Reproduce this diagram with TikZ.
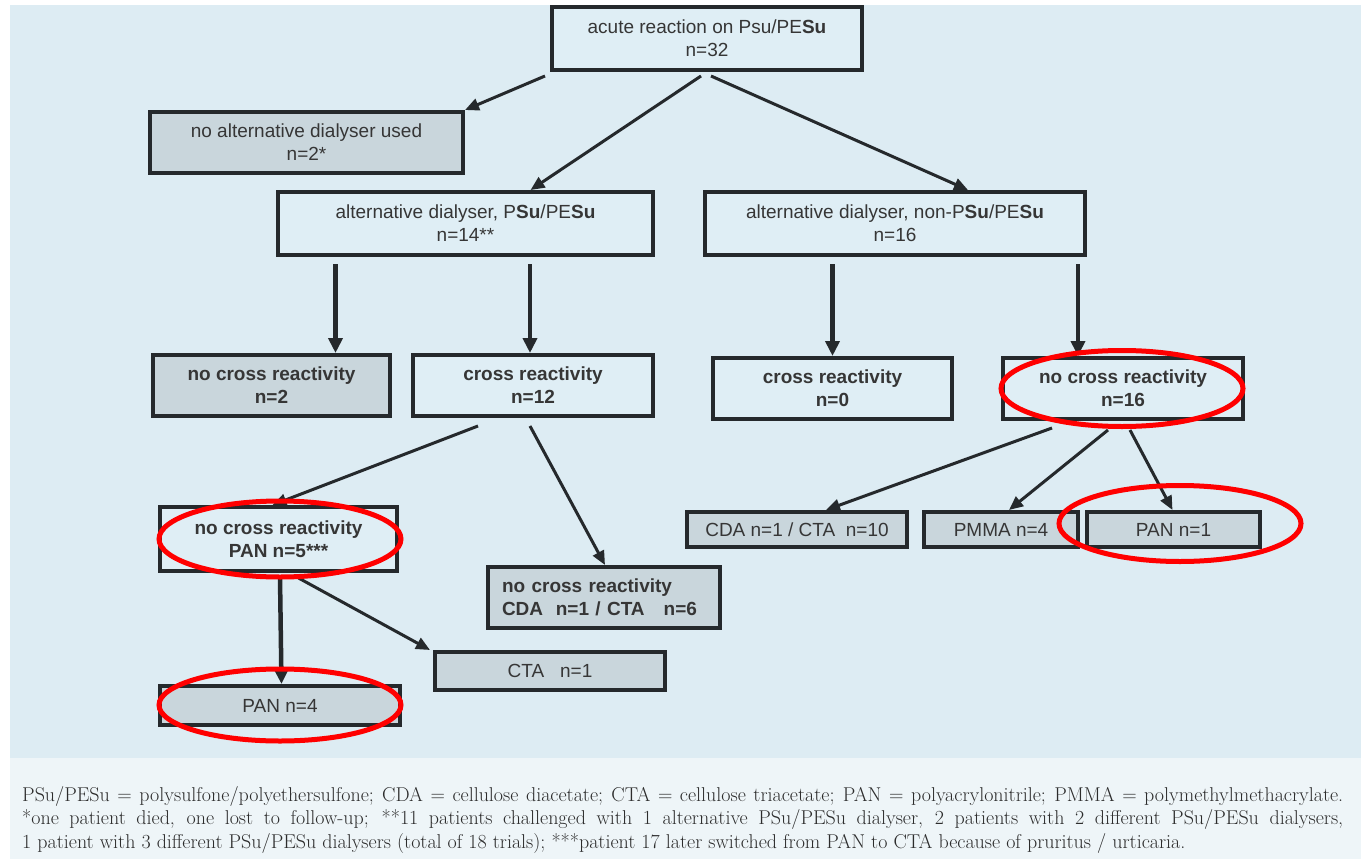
\documentclass[tikz,border=0pt]{standalone}
\usepackage{fontspec}
\newfontfamily\diagfont{Liberation Sans}
\usetikzlibrary{arrows.meta,calc}

\definecolor{panel}{HTML}{DDECF3}
\definecolor{capbg}{HTML}{EEF5F8}
\definecolor{boxline}{HTML}{25292C}
\definecolor{boxgray}{HTML}{C9D6DC}
\definecolor{boxlight}{HTML}{DFEEF5}
\definecolor{txt}{HTML}{363636}
\definecolor{captxt}{HTML}{2C2C2C}
\definecolor{ring}{HTML}{FF0000}

\tikzset{
  box/.style={draw=boxline, line width=4pt, fill=boxlight, text=txt,
    font=\diagfont\fontsize{19}{23}\selectfont, align=center, inner sep=0pt},
  graybox/.style={box, fill=boxgray},
  boldtext/.style={font=\diagfont\bfseries\fontsize{19}{23}\selectfont},
  arr/.style={draw=boxline, line width=3pt, -{Triangle[length=14pt,width=12pt]}},
  varr/.style={arr, line width=4.5pt, -{Triangle[length=15pt,width=14pt]}},
  ring/.style={draw=ring, line width=5pt},
}

\begin{document}
\begin{tikzpicture}[x=1pt,y=-1pt]
  % page, diagram panel and caption strip
  \useasboundingbox (0,0) rectangle (1361,859);
  \fill[white] (0,0) rectangle (1361,859);
  \fill[panel] (10,5) rectangle (1361,758);
  \fill[capbg] (10,758) rectangle (1361,859);

  % level 0
  \node[box, minimum width=310pt, minimum height=63pt] (top) at (707,38.5)
    {acute reaction on Psu/PE\textbf{Su}\\n=32};

  % level 1
  \node[graybox, minimum width=313pt, minimum height=61pt] (noalt) at (306.5,142.5)
    {no alternative dialyser used\\n=2*};
  \node[box, minimum width=375pt, minimum height=63pt] (psu) at (465.5,223.5)
    {alternative dialyser, P\textbf{Su}/PE\textbf{Su}\\n=14**};
  \node[box, minimum width=380pt, minimum height=63pt] (nonpsu) at (895,223.5)
    {alternative dialyser, non-P\textbf{Su}/PE\textbf{Su}\\n=16};

  % level 2
  \node[graybox, boldtext, minimum width=237pt, minimum height=61pt] (nc2) at (271.5,385.5)
    {no cross reactivity\\n=2};
  \node[box, boldtext, minimum width=240pt, minimum height=61pt] (cr12) at (533,385.5)
    {cross reactivity\\n=12};
  \node[box, boldtext, minimum width=239pt, minimum height=61pt] (cr0) at (832.5,388.5)
    {cross reactivity\\n=0};
  \node[box, boldtext, minimum width=240pt, minimum height=61pt] (nc16) at (1123,388.5)
    {no cross reactivity\\n=16};

  % level 3
  \node[box, boldtext, minimum width=237pt, minimum height=64pt] (pan5) at (278.5,539)
    {no cross reactivity\\PAN n=5***};
  \node[graybox, boldtext, minimum width=232pt, minimum height=61pt, text width=204pt, align=left] (cdacta6) at (604,597.5)
    {no cross reactivity\\CDA\ \ n=1 / CTA\ \ \ n=6};
  \node[graybox, minimum width=220pt, minimum height=35pt] (cdacta10) at (797,529.5)
    {CDA n=1 / CTA\ \ n=10};
  \node[graybox, minimum width=154pt, minimum height=35pt] (pmma) at (1001,529.5)
    {PMMA n=4};
  \node[graybox, minimum width=173pt, minimum height=35pt] (pan1) at (1173.5,529.5)
    {PAN n=1};

  % level 4
  \node[graybox, minimum width=230pt, minimum height=38pt] (cta1) at (550,671)
    {CTA\ \ \ n=1};
  \node[graybox, minimum width=240pt, minimum height=39pt] (pan4) at (280,705.5)
    {PAN n=4};

  % connectors
  \draw[arr] ([xshift=-5pt,yshift=-4pt]top.south west) -- (noalt.north east);
  \draw[arr] ([xshift=-6pt,yshift=-4pt]top.south) -- ([xshift=65pt]psu.north);
  \draw[arr] ([xshift=4pt,yshift=-4pt]top.south) -- ([xshift=73pt]nonpsu.north);

  \draw[varr] ([xshift=-130pt,yshift=-7pt]psu.south) -- ([xshift=64pt]nc2.north);
  \draw[varr] ([xshift=64.5pt,yshift=-7pt]psu.south) -- ([xshift=-3pt]cr12.north);
  \draw[varr] ([xshift=-62.5pt,yshift=-7pt]nonpsu.south) -- (cr0.north);
  \draw[varr] ([xshift=183pt,yshift=-7pt]nonpsu.south) -- ([xshift=-45pt]nc16.north);

  \draw[arr] ([xshift=-55pt,yshift=-8pt]cr12.south) -- ([xshift=-6pt]pan5.north);
  \draw[arr] ([xshift=-3pt,yshift=-8pt]cr12.south) -- ([xshift=1pt]cdacta6.north);

  \draw[arr] ([xshift=-71pt,yshift=-7pt]nc16.south) -- ([xshift=29pt]cdacta10.north);
  \draw[arr] ([xshift=-15pt,yshift=-9pt]nc16.south) -- ([xshift=8pt]pmma.north);
  \draw[arr] ([xshift=7pt,yshift=-9pt]nc16.south) -- ([xshift=-1pt]pan1.north);

  \draw[varr] ([xshift=1.5pt,yshift=-4pt]pan5.south) -- ([xshift=1.5pt]pan4.north);
  \draw[arr] ([xshift=20pt,yshift=-5pt]pan5.south) -- ([xshift=-3pt]cta1.north west);

  % highlight rings
  \draw[ring] ([xshift=-1pt]nc16.center) ellipse [x radius=121pt, y radius=38pt];
  \draw[ring] ([xshift=1.5pt]pan5.center) ellipse [x radius=121pt, y radius=38pt];
  \draw[ring] ([xshift=6.5pt,yshift=6pt]pan1.center) ellipse [x radius=121pt, y radius=38pt];
  \draw[ring] ([yshift=0.5pt]pan4.center) ellipse [x radius=121pt, y radius=36pt];

  % caption
  \node[anchor=north west, text width=1321pt, align=justify, inner sep=0pt,
        text=captxt, font=\fontsize{20}{23.5}\selectfont\addfontfeatures{LetterSpace=3}] (caption) at (22,786)
    {PSu/PESu = polysulfone/polyethersulfone; CDA = cellulose diacetate; CTA = cellulose triacetate; PAN = polyacrylonitrile; PMMA = polymethylmethacrylate.\linebreak
     *one patient died, one lost to follow-up; **11 patients challenged with 1 alternative PSu/PESu dialyser, 2 patients with 2 different PSu/PESu dialysers,\linebreak
     1 patient with 3 different PSu/PESu dialysers (total of 18 trials); ***patient 17 later switched from PAN to CTA because of pruritus / urticaria.};
\end{tikzpicture}
\end{document}
